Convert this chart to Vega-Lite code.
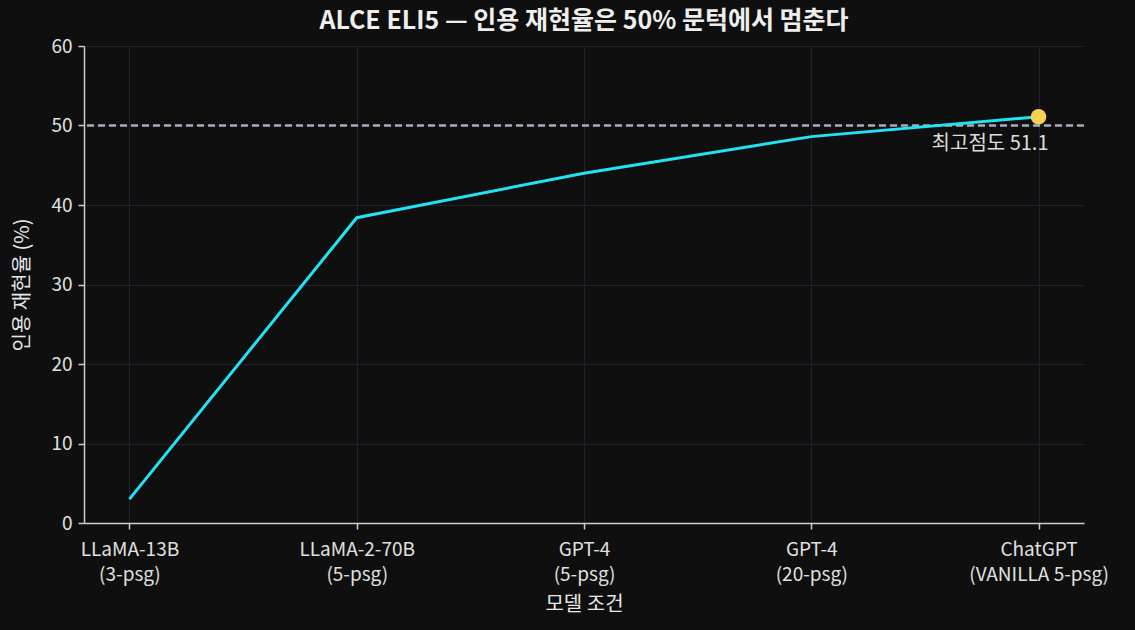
{
  "$schema": "https://vega.github.io/schema/vega-lite/v6.json",
  "description": "ALCE ELI5 citation recall by model condition",
  "autosize": {"type": "none"},
  "width": 1000,
  "height": 477,
  "padding": {"left": 84, "top": 46, "right": 51, "bottom": 107},
  "background": "#0f0f0f",
  "title": {
    "text": "ALCE ELI5 — 인용 재현율은 50% 문턱에서 멈춘다",
    "font": "Noto Sans CJK KR",
    "fontSize": 25,
    "fontWeight": "bold",
    "color": "#eeeeee",
    "anchor": "middle",
    "offset": 3
  },
  "data": {
    "values": [
      {"model": "LLaMA-13B|(3-psg)", "recall": 3.0},
      {"model": "LLaMA-2-70B|(5-psg)", "recall": 38.4},
      {"model": "GPT-4|(5-psg)", "recall": 44.0},
      {"model": "GPT-4|(20-psg)", "recall": 48.6},
      {"model": "ChatGPT|(VANILLA 5-psg)", "recall": 51.1}
    ]
  },
  "encoding": {
    "x": {
      "field": "model",
      "type": "ordinal",
      "sort": null,
      "scale": {"type": "point", "padding": 0.2},
      "axis": {
        "title": "모델 조건",
        "labelAngle": 0,
        "labelExpr": "split(datum.label, '|')",
        "labelLineHeight": 25,
        "labelPadding": 11,
        "titlePadding": 10
      }
    },
    "y": {
      "field": "recall",
      "type": "quantitative",
      "scale": {"domain": [0, 60]},
      "axis": {"title": "인용 재현율 (%)", "tickCount": 6, "labelPadding": 6, "titlePadding": 18}
    }
  },
  "layer": [
    {
      "mark": {"type": "rule", "color": "#a8acb8", "strokeDash": [7, 4], "strokeWidth": 1.6},
      "encoding": {"y": {"datum": 50}, "x": null}
    },
    {
      "mark": {"type": "line", "color": "#22e3f2", "strokeWidth": 3}
    },
    {
      "transform": [{"filter": "datum.recall == 51.1"}],
      "mark": {"type": "point", "filled": true, "color": "#f7d154", "size": 240, "opacity": 1}
    },
    {
      "transform": [{"filter": "datum.recall == 51.1"}],
      "mark": {
        "type": "text",
        "text": "최고점도 51.1",
        "align": "right",
        "baseline": "middle",
        "dx": 10,
        "dy": 27,
        "font": "Noto Sans CJK KR",
        "fontSize": 20,
        "color": "#dddddd"
      }
    }
  ],
  "config": {
    "view": {"stroke": null},
    "font": "Noto Sans CJK KR",
    "axis": {
      "labelFont": "Noto Sans CJK KR",
      "titleFont": "Noto Sans CJK KR",
      "labelFontSize": 19,
      "titleFontSize": 20,
      "titleFontWeight": "normal",
      "labelColor": "#e0e0e0",
      "titleColor": "#e8e8e8",
      "domainColor": "#cccccc",
      "domainWidth": 1.5,
      "tickColor": "#cccccc",
      "tickSize": 6,
      "tickWidth": 1.5,
      "grid": true,
      "gridColor": "#202034",
      "gridWidth": 1
    }
  }
}
